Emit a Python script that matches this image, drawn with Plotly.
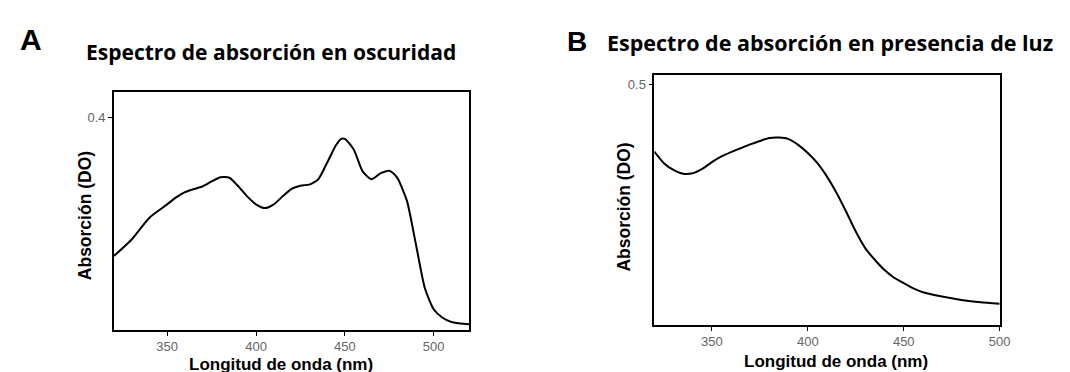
import plotly.graph_objects as go

# Panel A: dark
wl_a = [320, 330, 340, 350, 355, 360, 370, 375, 380, 385, 390, 395, 400, 405, 410, 415, 420, 425, 430, 435,
        440, 445, 448, 450, 455, 460, 465, 470, 475, 478, 480, 485, 490, 495, 500, 505, 510, 515, 520]
abs_a = [0.139, 0.170, 0.211, 0.236, 0.249, 0.259, 0.270, 0.279, 0.287, 0.286, 0.270, 0.251, 0.236, 0.229,
         0.236, 0.251, 0.265, 0.271, 0.273, 0.283, 0.314, 0.347, 0.359, 0.359, 0.339, 0.298, 0.283, 0.294,
         0.299, 0.292, 0.283, 0.242, 0.161, 0.079, 0.039, 0.023, 0.015, 0.012, 0.011]

# Panel B: light
wl_b = [320, 325, 330, 335, 340, 345, 350, 355, 360, 365, 370, 375, 380, 385, 390, 395, 400, 405, 410, 415,
        420, 425, 430, 435, 440, 445, 450, 455, 460, 470, 480, 490, 500]
abs_b = [0.360, 0.336, 0.322, 0.314, 0.315, 0.324, 0.338, 0.350, 0.359, 0.367, 0.375, 0.382, 0.388, 0.389,
         0.386, 0.374, 0.357, 0.336, 0.308, 0.274, 0.235, 0.194, 0.159, 0.135, 0.114, 0.098, 0.087, 0.076,
         0.068, 0.059, 0.052, 0.047, 0.044]

xticks = [350, 400, 450, 500]
title_a = "Espectro de absorción en oscuridad"
title_b = "Espectro de absorción en presencia de luz"
xlabel = "Longitud de onda (nm)"
ylabel = "Absorción (DO)"

W, H = 1070, 372

fig = go.Figure()
fig.add_trace(go.Scatter(x=wl_a, y=abs_a, mode="lines", line=dict(color="black", width=2, shape="spline", smoothing=0.6),
                         xaxis="x", yaxis="y", showlegend=False))
fig.add_trace(go.Scatter(x=wl_b, y=abs_b, mode="lines", line=dict(color="black", width=2, shape="spline", smoothing=0.6),
                         xaxis="x2", yaxis="y2", showlegend=False))

axcommon = dict(showline=True, linecolor="black", linewidth=1.5, mirror=True, ticks="outside", ticklen=4,
                tickcolor="black", showgrid=False, zeroline=False,
                tickfont=dict(family="Arial, Liberation Sans", size=13, color="#666"))

fig.update_layout(
    width=W, height=H, margin=dict(l=0, r=0, t=0, b=0),
    paper_bgcolor="white", plot_bgcolor="white",
    xaxis=dict(domain=[107/W, 466/W], range=[320, 520], tickvals=xticks, anchor="y", **axcommon),
    yaxis=dict(domain=[1-322/H, 1-84/H], range=[0, 0.447], tickvals=[0.4], anchor="x", **axcommon),
    xaxis2=dict(domain=[653/W, 1002/W], range=[320, 500], tickvals=xticks, anchor="y2", **axcommon),
    yaxis2=dict(domain=[1-317/H, 1-67/H], range=[0, 0.519], tickvals=[0.5], anchor="x2", **axcommon),
)

def ann(text, x, y, size, family, angle=0, xanchor="center"):
    fig.add_annotation(text=text, x=x/W, y=1-y/H, xref="paper", yref="paper", showarrow=False,
                       font=dict(family=family, size=size, color="black"), textangle=angle,
                       xanchor=xanchor, yanchor="middle")

ann("<b>A</b>", 23, 31, 30, "Liberation Sans")
ann("<b>B</b>", 575, 33, 28, "Liberation Sans")
ann("<b>" + title_a + "</b>", 266, 44, 21, "Open Sans")
ann("<b>" + title_b + "</b>", 831, 34, 21.5, "Open Sans")
ann("<b>" + xlabel + "</b>", 276, 356, 17, "Liberation Sans")
ann("<b>" + xlabel + "</b>", 837, 353, 17, "Liberation Sans")
ann("<b>" + ylabel + "</b>", 78, 208, 17.5, "Liberation Sans", angle=-90)
ann("<b>" + ylabel + "</b>", 622, 199, 17.5, "Liberation Sans", angle=-90)

fig.write_html("out.html")
